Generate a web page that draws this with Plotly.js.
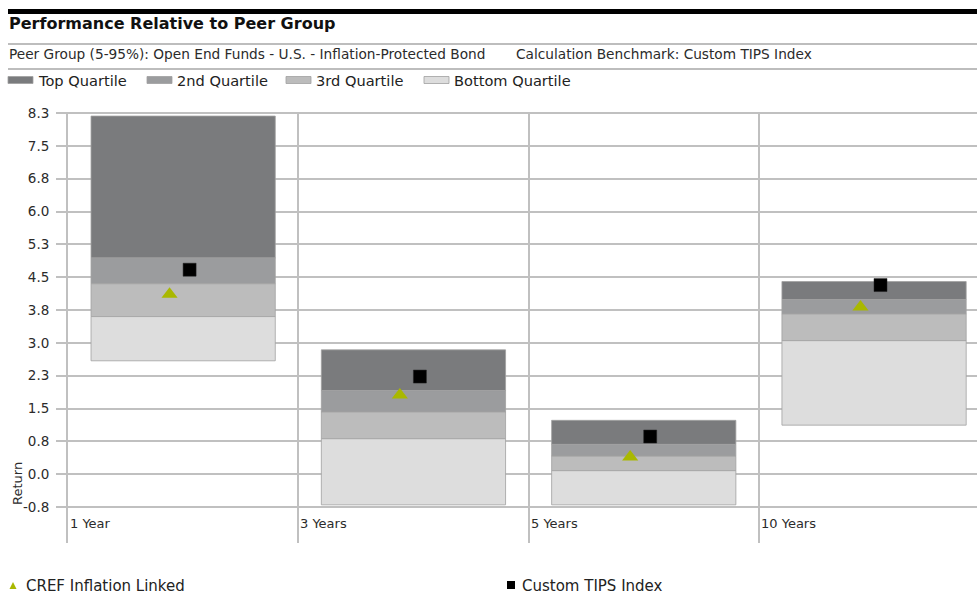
<!DOCTYPE html>
<html>
<head>
<meta charset="utf-8">
<script src="https://cdn.plot.ly/plotly-3.0.1.min.js"></script>
<style>
  html, body { margin: 0; padding: 0; background: #ffffff; }
  #chart { width: 977px; height: 598px; }
</style>
</head>
<body>
<div id="chart"></div>
<script>
// Trailing periods
const periods = ['1 Year', '3 Years', '5 Years', '10 Years'];

// Peer group percentile boundaries (5th to 95th, split into quartiles)
const peer95 = [8.18, 2.84, 1.23, 4.40];
const peer75 = [4.94, 1.91, 0.68, 3.99];
const peer50 = [4.35, 1.42, 0.41, 3.66];
const peer25 = [3.60, 0.81, 0.08, 3.05];
const peer5  = [2.59, -0.70, -0.70, 1.12];

// Fund and benchmark returns
const fundName = 'CREF Inflation Linked';
const fundReturns = [4.11, 1.81, 0.39, 3.82];
const benchName = 'Custom TIPS Index';
const benchReturns = [4.67, 2.23, 0.86, 4.32];

// Quartile band names
const quartileNames = ['Top Quartile', '2nd Quartile', '3rd Quartile', 'Bottom Quartile'];

// Y axis ticks
const yTickVals = [-0.75, 0, 0.75, 1.5, 2.25, 3.0, 3.75, 4.5, 5.25, 6.0, 6.75, 7.5, 8.25];
const yTickText = ['-0.8', '0.0', '0.8', '1.5', '2.3', '3.0', '3.8', '4.5', '5.3', '6.0', '6.8', '7.5', '8.3'];

// Header text
const titleText = 'Performance Relative to Peer Group';
const peerGroupText = 'Peer Group (5-95%): Open End Funds - U.S. - Inflation-Protected Bond';
const benchmarkText = 'Calculation Benchmark: Custom TIPS Index';
const yTitle = 'Return';

// ---- styling ----
const W = 977, H = 598;
const M = { l: 68, r: 0, t: 112, b: 55 };
const FONT = 'DejaVu Sans, Verdana, sans-serif';
const GRID = '#c0c0c0';
const TEXT = '#2b2b2b';
const bandColors = ['#7a7b7d', '#9b9c9e', '#bcbcbc', '#dddddd'];
const fundColor = '#a9b800';
const benchColor = '#000000';

// page pixel -> paper fraction
const px = x => (x - M.l) / (W - M.l - M.r);
const py = y => (H - M.b - y) / (H - M.t - M.b);

const centers = periods.map((_, i) => i + 0.5);
const bounds = [peer95, peer75, peer50, peer25, peer5];

const traces = [];
quartileNames.forEach((name, q) => {
  const upper = bounds[q], lower = bounds[q + 1];
  traces.push({
    type: 'bar',
    name: name,
    x: centers,
    y: upper.map((u, i) => u - lower[i]),
    base: lower,
    width: 0.8,
    marker: { color: bandColors[q], line: { color: 'rgba(160,160,160,0.8)', width: 1 } },
    showlegend: false,
    hoverinfo: 'skip'
  });
});

traces.push({
  type: 'scatter', mode: 'markers', name: fundName,
  x: centers.map(c => c - 0.059), y: fundReturns,
  marker: { symbol: 'triangle-up', size: 14, color: fundColor },
  showlegend: false, cliponaxis: false
});
traces.push({
  type: 'scatter', mode: 'markers', name: benchName,
  x: centers.map(c => c + 0.028), y: benchReturns,
  marker: { symbol: 'square', size: 13, color: benchColor, line: { color: '#222', width: 0.5 } },
  showlegend: false, cliponaxis: false
});

const shapes = [
  // header rules
  { type: 'rect', xref: 'paper', yref: 'paper', x0: px(8), x1: px(977), y0: py(14), y1: py(9),
    fillcolor: '#000000', line: { width: 0 }, layer: 'above' },
  { type: 'rect', xref: 'paper', yref: 'paper', x0: px(8), x1: px(977), y0: py(45), y1: py(43),
    fillcolor: '#bdbdbd', line: { width: 0 } },
  { type: 'rect', xref: 'paper', yref: 'paper', x0: px(8), x1: px(977), y0: py(70), y1: py(68),
    fillcolor: '#bdbdbd', line: { width: 0 } }
];

const annotations = [
  { text: titleText, xref: 'paper', yref: 'paper', x: px(7), y: py(24), xanchor: 'left', yanchor: 'middle',
    showarrow: false, font: { family: FONT, size: 16, color: '#111', weight: 'bold' } },
  { text: peerGroupText, xref: 'paper', yref: 'paper', x: px(7), y: py(54), xanchor: 'left', yanchor: 'middle',
    showarrow: false, font: { family: FONT, size: 13.7, color: TEXT } },
  { text: benchmarkText, xref: 'paper', yref: 'paper', x: px(514), y: py(54), xanchor: 'left', yanchor: 'middle',
    showarrow: false, font: { family: FONT, size: 13.7, color: TEXT } },
  { text: yTitle, xref: 'paper', yref: 'paper', x: px(17), y: py(484), xanchor: 'center', yanchor: 'middle',
    textangle: -90, showarrow: false, font: { family: FONT, size: 13, color: TEXT } }
];

// quartile key along the top
const keyX = [8, 147, 286, 424];
quartileNames.forEach((name, q) => {
  shapes.push({ type: 'rect', xref: 'paper', yref: 'paper',
    x0: px(keyX[q]), x1: px(keyX[q] + 25), y0: py(83.5), y1: py(76.5),
    fillcolor: bandColors[q], line: { color: 'rgba(160,160,160,0.8)', width: 1 } });
  annotations.push({ text: name, xref: 'paper', yref: 'paper', x: px(keyX[q] + 28), y: py(81),
    xanchor: 'left', yanchor: 'middle', showarrow: false,
    font: { family: FONT, size: 14.6, color: '#222' } });
});

// period labels at the left of each column
periods.forEach((p, i) => {
  annotations.push({ text: p, xref: 'x', yref: 'paper', x: i, y: py(523), xanchor: 'left', yanchor: 'middle',
    xshift: 0, showarrow: false, font: { family: FONT, size: 13, color: TEXT } });
});

// series key along the bottom
shapes.push({ type: 'path', xref: 'paper', yref: 'paper', xsizemode: 'pixel', ysizemode: 'pixel',
  xanchor: px(13), yanchor: py(586), path: 'M-3.5,-3 L3.5,-3 L0,4 Z',
  fillcolor: fundColor, line: { width: 0 } });
annotations.push({ text: fundName, xref: 'paper', yref: 'paper', x: px(24), y: py(586),
  xanchor: 'left', yanchor: 'middle', showarrow: false, font: { family: FONT, size: 15, color: '#222' } });
shapes.push({ type: 'path', xref: 'paper', yref: 'paper', xsizemode: 'pixel', ysizemode: 'pixel',
  xanchor: px(511), yanchor: py(585), path: 'M-4,-4 L4,-4 L4,4 L-4,4 Z',
  fillcolor: benchColor, line: { width: 0 } });
annotations.push({ text: benchName, xref: 'paper', yref: 'paper', x: px(520), y: py(586),
  xanchor: 'left', yanchor: 'middle', showarrow: false, font: { family: FONT, size: 15, color: '#222' } });

const layout = {
  width: W, height: H,
  margin: M,
  paper_bgcolor: '#ffffff', plot_bgcolor: '#ffffff',
  barmode: 'overlay',
  showlegend: false,
  font: { family: FONT, color: TEXT },
  xaxis: {
    range: [0, 3.947], tickvals: [0, 1, 2, 3], showticklabels: false,
    showgrid: true, gridcolor: GRID, gridwidth: 2, zeroline: false, showline: false, fixedrange: true
  },
  yaxis: {
    range: [-1.572, 8.273], tickvals: yTickVals, ticktext: yTickText,
    showgrid: true, gridcolor: GRID, gridwidth: 2, zeroline: false,
    showline: true, linecolor: GRID, linewidth: 2,
    ticks: 'outside', ticklen: 10, tickwidth: 2, tickcolor: GRID, ticklabelstandoff: 4,
    tickfont: { family: FONT, size: 13.5, color: TEXT }, fixedrange: true
  },
  shapes: shapes,
  annotations: annotations
};

Plotly.newPlot('chart', traces, layout, { displayModeBar: false, staticPlot: true });
</script>
</body>
</html>
